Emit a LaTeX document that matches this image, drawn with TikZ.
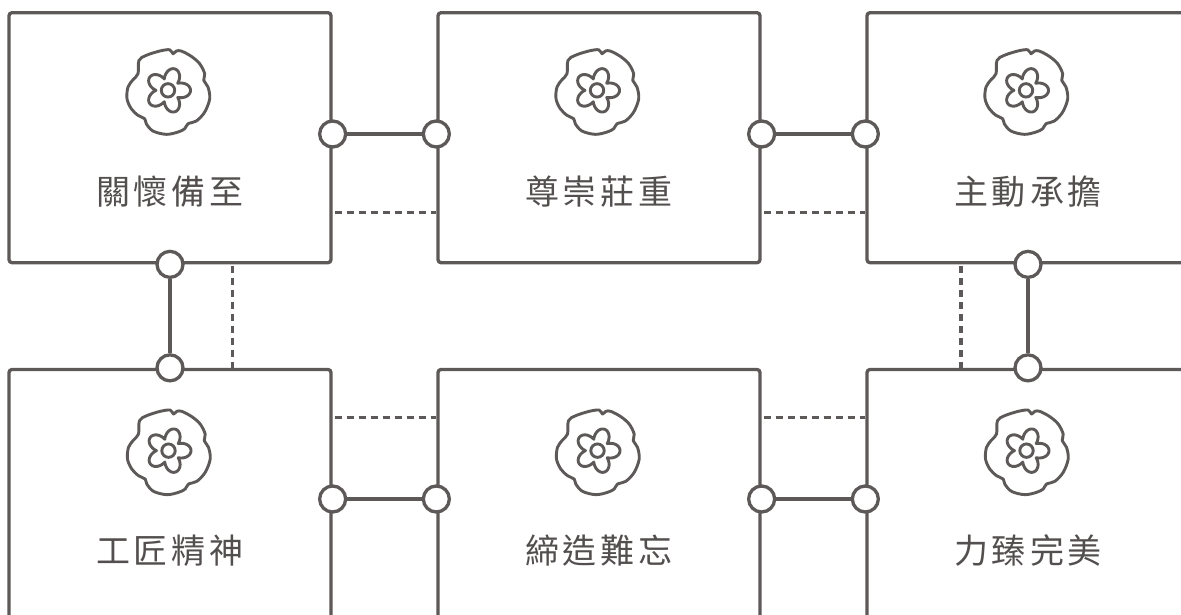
\documentclass[tikz,border=0pt]{standalone}
\usepackage{fontspec}
\newfontfamily\cjk{Noto Sans CJK TC}
\usetikzlibrary{calc}
\definecolor{ink}{RGB}{94,89,89}
\definecolor{txt}{RGB}{84,79,79}
\tikzset{
  flower/.pic={
    \draw[ink, line width=2.9pt, line join=round]
      plot[smooth cycle, tension=0.55] coordinates {
        (-29,-31.7) (-30,-18.3) (-35,-12.3) (-40,-5) (-41,6.7) (-36.7,16.7)
        (-30,23.3) (-23.3,26.7) (-21.7,31.7) (-15,39) (-1.7,42.3) (10,40)
        (16.7,36.7) (20,31.7) (28.3,29) (36.7,20) (41.7,6.7) (40,-5)
        (35.7,-11.7) (36.7,-18.3) (31.7,-28.3) (23.3,-35.7) (13.3,-41)
        (8.3,-41) (5,-38.3) (1.7,-42.3) (-8.3,-41) (-21.7,-36.7)};
    \draw[ink, line width=2.9pt, line join=round]
      plot[domain=0:357, samples=120, smooth cycle]
      ({(12+10.5*abs(cos(2.5*\x)))*cos(\x)}, {(12+10.5*abs(cos(2.5*\x)))*sin(\x)-1.7});
    \draw[ink, line width=2.9pt] (0,-1.7) circle[radius=6.7];
  }
}
\begin{document}
\begin{tikzpicture}[x=1pt,y=-1pt,
  card/.style={draw=ink, line width=3.3pt, rounded corners=3pt,
    minimum width=322pt, minimum height=250pt, inner sep=0pt, fill=white},
  port/.style={circle, draw=ink, line width=3.3pt, fill=white,
    minimum size=26pt, inner sep=0pt},
  link/.style={draw=ink, line width=3.3pt},
  dashlink/.style={draw=ink, line width=3.2pt, dash pattern=on 7pt off 5pt, dash phase=-2pt},
  label/.style={text=txt, font=\cjk\fontsize{34}{34}\selectfont, inner sep=0pt}
]
\useasboundingbox (0,0) rectangle (1181,615);
\clip (0,0) rectangle (1181,615);
\fill[white] (0,0) rectangle (1181,615);

% cards
\node[card] (b1) at (170,137.7) {};
\node[card] (b2) at (599,137.7) {};
\node[card] (b3) at (1028,137.7) {};
\node[card] (b4) at (170,494.5) {};
\node[card] (b5) at (599,494.5) {};
\node[card] (b6) at (1028,494.5) {};

% reference rows / columns
\coordinate (rowA) at (0,134);
\coordinate (rowB) at (0,499);
\coordinate (dashA) at (0,212.3);
\coordinate (dashB) at (0,417.7);
\coordinate (dashL) at (232.3,0);
\coordinate (dashR) at (961,0);

% dashed links
\draw[dashlink] (b1.east |- dashA) -- (b2.west |- dashA);
\draw[dashlink] (b2.east |- dashA) -- (b3.west |- dashA);
\draw[dashlink] (b4.east |- dashB) -- (b5.west |- dashB);
\draw[dashlink] (b5.east |- dashB) -- (b6.west |- dashB);
\draw[dashlink] (b1.south -| dashL) -- (b4.north -| dashL);
\draw[dashlink] (b3.south -| dashR) -- (b6.north -| dashR);

% ports
\node[port] (p1r) at (b1.east |- rowA) {};
\node[port] (p2l) at (b2.west |- rowA) {};
\node[port] (p2r) at (b2.east |- rowA) {};
\node[port] (p3l) at (b3.west |- rowA) {};
\node[port] (p4r) at (b4.east |- rowB) {};
\node[port] (p5l) at (b5.west |- rowB) {};
\node[port] (p5r) at (b5.east |- rowB) {};
\node[port] (p6l) at (b6.west |- rowB) {};
\node[port] (p1b) at (b1.south) {};
\node[port] (p4t) at (b4.north) {};
\node[port] (p3b) at (b3.south) {};
\node[port] (p6t) at (b6.north) {};

% solid links
\draw[link] (p1r) -- (p2l);
\draw[link] (p2r) -- (p3l);
\draw[link] (p4r) -- (p5l);
\draw[link] (p5r) -- (p6l);
\draw[link] (p1b) -- (p4t);
\draw[link] (p3b) -- (p6t);

% icons
\pic at ($(b1.north)+(-2,81)$) {flower};
\pic at ($(b2.north)+(-2,81)$) {flower};
\pic at ($(b3.north)+(-2,81)$) {flower};
\pic at ($(b4.north)+(-1.5,84.5)$) {flower};
\pic at ($(b5.north)+(-1.5,84.5)$) {flower};
\pic at ($(b6.north)+(-1.5,84.5)$) {flower};

% labels
\node[label] (t1) at ($(b1.north)+(0,180.3)$) {關\kern4pt 懷\kern4pt 備\kern4pt 至};
\node[label] (t2) at ($(b2.north)+(0,180.3)$) {尊\kern4pt 崇\kern4pt 莊\kern4pt 重};
\node[label] (t3) at ($(b3.north)+(0,180.3)$) {主\kern4pt 動\kern4pt 承\kern4pt 擔};
\node[label] (t4) at ($(b4.north)+(0,182.5)$) {工\kern4pt 匠\kern4pt 精\kern4pt 神};
\node[label] (t5) at ($(b5.north)+(0,182.5)$) {締\kern4pt 造\kern4pt 難\kern4pt 忘};
\node[label] (t6) at ($(b6.north)+(0,182.5)$) {力\kern4pt 臻\kern4pt 完\kern4pt 美};
\end{tikzpicture}
\end{document}
